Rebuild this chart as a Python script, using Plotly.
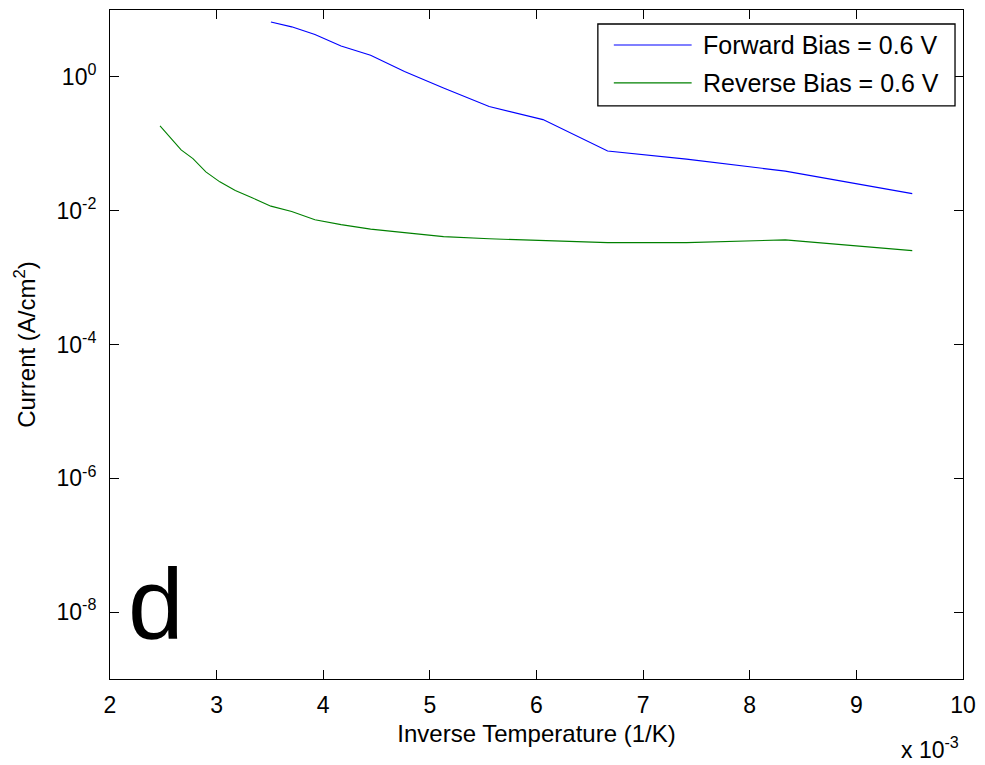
import plotly.graph_objects as go

# Inverse temperature in units of 1e-3 1/K
inv_temp_forward = [3.509, 3.704, 3.922, 4.167, 4.444, 4.762, 5.128, 5.556,
                    6.061, 6.667, 7.407, 8.333, 9.524]
current_forward = [6.6, 5.6, 4.3, 2.9, 2.1, 1.2, 0.68, 0.36,
                   0.23, 0.078, 0.059, 0.039, 0.018]

inv_temp_reverse = [2.469, 2.564, 2.667, 2.778, 2.899, 3.030, 3.175, 3.333,
                    3.509, 3.704, 3.922, 4.167, 4.444, 4.762, 5.128, 5.556,
                    6.061, 6.667, 7.407, 8.333, 9.524]
current_reverse = [0.186, 0.123, 0.081, 0.060, 0.038, 0.027, 0.020, 0.0156,
                   0.0117, 0.0097, 0.0073, 0.0062, 0.0053, 0.0047, 0.0041, 0.0038,
                   0.00356, 0.00333, 0.00333, 0.00366, 0.00253]

series_names = ["Forward Bias = 0.6 V", "Reverse Bias = 0.6 V"]
series_colors = ["#0000FF", "#008000"]

x_ticks = [2, 3, 4, 5, 6, 7, 8, 9, 10]
y_ticks = [1e-8, 1e-6, 1e-4, 1e-2, 1e0]
y_tick_text = ["10<sup>-8</sup>", "10<sup>-6</sup>", "10<sup>-4</sup>",
               "10<sup>-2</sup>", "10<sup>0</sup>"]

FONT = "Liberation Sans, Arial, Helvetica, sans-serif"
TICK_SIZE = 23
TEXT_SIZE = 24
LEGEND_SIZE = 25
W, H = 985, 765
L, R, T, B = 110, 965, 9, 679


def px(x):
    return (x - L) / (R - L)


def py(y):
    return (B - y) / (B - T)


fig = go.Figure()
fig.add_trace(go.Scatter(x=inv_temp_forward, y=current_forward, mode="lines",
                         name=series_names[0],
                         line=dict(color=series_colors[0], width=1.1),
                         showlegend=False))
fig.add_trace(go.Scatter(x=inv_temp_reverse, y=current_reverse, mode="lines",
                         name=series_names[1],
                         line=dict(color=series_colors[1], width=1.1),
                         showlegend=False))

axis_common = dict(showline=True, linecolor="black", linewidth=1, mirror="allticks",
                   ticks="inside", ticklen=9, tickcolor="black", tickwidth=1,
                   showgrid=False, zeroline=False,
                   tickfont=dict(family=FONT, size=TICK_SIZE, color="black"))

fig.update_xaxes(range=[2, 10], tickvals=x_ticks, ticktext=[str(v) for v in x_ticks],
                 title=dict(text="Inverse Temperature (1/K)",
                            font=dict(family=FONT, size=TEXT_SIZE, color="black"),
                            standoff=8),
                 ticklabelstandoff=5,
                 **axis_common)
fig.update_yaxes(type="log", range=[-9, 1], tickvals=y_ticks, ticktext=y_tick_text,
                 title=dict(text="Current (A/cm<sup>2</sup>)",
                            font=dict(family=FONT, size=TEXT_SIZE, color="black"),
                            standoff=14),
                 ticklabelstandoff=8,
                 **axis_common)

# Legend box drawn in paper coordinates
shapes = [dict(type="rect", xref="paper", yref="paper",
               x0=px(599), x1=px(957), y0=py(105), y1=py(23),
               line=dict(color="black", width=1.3), fillcolor="white", layer="above")]
annotations = []
for i, (name, color) in enumerate(zip(series_names, series_colors)):
    yc = 44 + i * 38
    shapes.append(dict(type="line", xref="paper", yref="paper",
                       x0=px(615), x1=px(693), y0=py(yc), y1=py(yc),
                       line=dict(color=color, width=1.1), layer="above"))
    annotations.append(dict(xref="paper", yref="paper", x=px(702), y=py(yc),
                            xanchor="left", yanchor="middle", showarrow=False,
                            text=name, font=dict(family=FONT, size=LEGEND_SIZE, color="black")))

# Panel label
annotations.append(dict(xref="paper", yref="paper", x=px(126), y=py(604),
                        xanchor="left", yanchor="middle", showarrow=False,
                        text="d", font=dict(family=FONT, size=100, color="black")))
# Axis multiplier
annotations.append(dict(xref="paper", yref="paper", x=px(963), y=py(748),
                        xanchor="right", yanchor="middle", showarrow=False,
                        text="x 10<sup>-3</sup>",
                        font=dict(family=FONT, size=TICK_SIZE, color="black")))

fig.update_layout(width=W, height=H,
                  margin=dict(l=L, r=W - R, t=T, b=H - B),
                  paper_bgcolor="white", plot_bgcolor="white",
                  shapes=shapes, annotations=annotations,
                  font=dict(family=FONT, color="black"))

fig.write_html("out.html")
